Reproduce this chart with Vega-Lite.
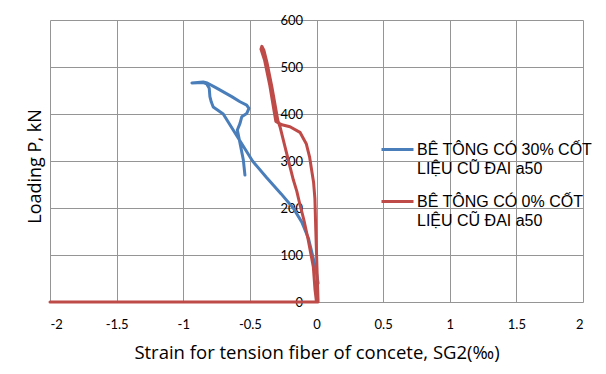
{
  "$schema": "https://vega.github.io/schema/vega-lite/v6.json",
  "width": 533,
  "height": 282,
  "autosize": {"type": "none"},
  "padding": {"left": 50, "top": 20, "right": 23, "bottom": 72},
  "background": "white",
  "config": {
    "view": {"stroke": null},
    "font": "Lato",
    "style": {"guide-label": {"lineHeight": 19}}
  },
  "data": {
    "values": [
      {"s": "BÊ TÔNG CÓ 30% CỐT LIỆU CŨ ĐAI a50", "i": 1, "x": 0.012, "P": 40},
      {"s": "BÊ TÔNG CÓ 30% CỐT LIỆU CŨ ĐAI a50", "i": 2, "x": -0.005, "P": 70},
      {"s": "BÊ TÔNG CÓ 30% CỐT LIỆU CŨ ĐAI a50", "i": 3, "x": -0.03, "P": 100},
      {"s": "BÊ TÔNG CÓ 30% CỐT LIỆU CŨ ĐAI a50", "i": 4, "x": -0.06, "P": 135},
      {"s": "BÊ TÔNG CÓ 30% CỐT LIỆU CŨ ĐAI a50", "i": 5, "x": -0.11, "P": 170},
      {"s": "BÊ TÔNG CÓ 30% CỐT LIỆU CŨ ĐAI a50", "i": 6, "x": -0.175, "P": 200},
      {"s": "BÊ TÔNG CÓ 30% CỐT LIỆU CŨ ĐAI a50", "i": 7, "x": -0.265, "P": 230},
      {"s": "BÊ TÔNG CÓ 30% CỐT LIỆU CŨ ĐAI a50", "i": 8, "x": -0.375, "P": 265},
      {"s": "BÊ TÔNG CÓ 30% CỐT LIỆU CŨ ĐAI a50", "i": 9, "x": -0.48, "P": 300},
      {"s": "BÊ TÔNG CÓ 30% CỐT LIỆU CŨ ĐAI a50", "i": 10, "x": -0.59, "P": 350},
      {"s": "BÊ TÔNG CÓ 30% CỐT LIỆU CŨ ĐAI a50", "i": 11, "x": -0.70, "P": 400},
      {"s": "BÊ TÔNG CÓ 30% CỐT LIỆU CŨ ĐAI a50", "i": 12, "x": -0.775, "P": 415},
      {"s": "BÊ TÔNG CÓ 30% CỐT LIỆU CŨ ĐAI a50", "i": 13, "x": -0.79, "P": 426},
      {"s": "BÊ TÔNG CÓ 30% CỐT LIỆU CŨ ĐAI a50", "i": 14, "x": -0.80, "P": 437},
      {"s": "BÊ TÔNG CÓ 30% CỐT LIỆU CŨ ĐAI a50", "i": 15, "x": -0.805, "P": 455},
      {"s": "BÊ TÔNG CÓ 30% CỐT LIỆU CŨ ĐAI a50", "i": 16, "x": -0.824, "P": 464},
      {"s": "BÊ TÔNG CÓ 30% CỐT LIỆU CŨ ĐAI a50", "i": 17, "x": -0.85, "P": 467},
      {"s": "BÊ TÔNG CÓ 30% CỐT LIỆU CŨ ĐAI a50", "i": 18, "x": -0.935, "P": 466},
      {"s": "BÊ TÔNG CÓ 30% CỐT LIỆU CŨ ĐAI a50", "i": 19, "x": -0.85, "P": 468},
      {"s": "BÊ TÔNG CÓ 30% CỐT LIỆU CŨ ĐAI a50", "i": 20, "x": -0.82, "P": 466},
      {"s": "BÊ TÔNG CÓ 30% CỐT LIỆU CŨ ĐAI a50", "i": 21, "x": -0.749, "P": 455},
      {"s": "BÊ TÔNG CÓ 30% CỐT LIỆU CŨ ĐAI a50", "i": 22, "x": -0.636, "P": 437},
      {"s": "BÊ TÔNG CÓ 30% CỐT LIỆU CŨ ĐAI a50", "i": 23, "x": -0.574, "P": 426},
      {"s": "BÊ TÔNG CÓ 30% CỐT LIỆU CŨ ĐAI a50", "i": 24, "x": -0.524, "P": 419},
      {"s": "BÊ TÔNG CÓ 30% CỐT LIỆU CŨ ĐAI a50", "i": 25, "x": -0.507, "P": 412},
      {"s": "BÊ TÔNG CÓ 30% CỐT LIỆU CŨ ĐAI a50", "i": 26, "x": -0.524, "P": 401},
      {"s": "BÊ TÔNG CÓ 30% CỐT LIỆU CŨ ĐAI a50", "i": 27, "x": -0.561, "P": 394},
      {"s": "BÊ TÔNG CÓ 30% CỐT LIỆU CŨ ĐAI a50", "i": 28, "x": -0.574, "P": 380},
      {"s": "BÊ TÔNG CÓ 30% CỐT LIỆU CŨ ĐAI a50", "i": 29, "x": -0.594, "P": 366},
      {"s": "BÊ TÔNG CÓ 30% CỐT LIỆU CŨ ĐAI a50", "i": 30, "x": -0.574, "P": 338},
      {"s": "BÊ TÔNG CÓ 30% CỐT LIỆU CŨ ĐAI a50", "i": 31, "x": -0.549, "P": 302},
      {"s": "BÊ TÔNG CÓ 30% CỐT LIỆU CŨ ĐAI a50", "i": 32, "x": -0.537, "P": 270},
      {"s": "BÊ TÔNG CÓ 0% CỐT LIỆU CŨ ĐAI a50", "i": 1, "x": 0.012, "P": 0},
      {"s": "BÊ TÔNG CÓ 0% CỐT LIỆU CŨ ĐAI a50", "i": 2, "x": 0.005, "P": 60},
      {"s": "BÊ TÔNG CÓ 0% CỐT LIỆU CŨ ĐAI a50", "i": 3, "x": -0.005, "P": 150},
      {"s": "BÊ TÔNG CÓ 0% CỐT LIỆU CŨ ĐAI a50", "i": 4, "x": -0.012, "P": 220},
      {"s": "BÊ TÔNG CÓ 0% CỐT LIỆU CŨ ĐAI a50", "i": 5, "x": -0.022, "P": 255},
      {"s": "BÊ TÔNG CÓ 0% CỐT LIỆU CŨ ĐAI a50", "i": 6, "x": -0.036, "P": 280},
      {"s": "BÊ TÔNG CÓ 0% CỐT LIỆU CŨ ĐAI a50", "i": 7, "x": -0.052, "P": 309},
      {"s": "BÊ TÔNG CÓ 0% CỐT LIỆU CŨ ĐAI a50", "i": 8, "x": -0.076, "P": 336},
      {"s": "BÊ TÔNG CÓ 0% CỐT LIỆU CŨ ĐAI a50", "i": 9, "x": -0.124, "P": 361},
      {"s": "BÊ TÔNG CÓ 0% CỐT LIỆU CŨ ĐAI a50", "i": 10, "x": -0.199, "P": 373},
      {"s": "BÊ TÔNG CÓ 0% CỐT LIỆU CŨ ĐAI a50", "i": 11, "x": -0.26, "P": 377},
      {"s": "BÊ TÔNG CÓ 0% CỐT LIỆU CŨ ĐAI a50", "i": 12, "x": -0.305, "P": 384},
      {"s": "BÊ TÔNG CÓ 0% CỐT LIỆU CŨ ĐAI a50", "i": 13, "x": -0.32, "P": 409},
      {"s": "BÊ TÔNG CÓ 0% CỐT LIỆU CŨ ĐAI a50", "i": 14, "x": -0.35, "P": 460},
      {"s": "BÊ TÔNG CÓ 0% CỐT LIỆU CŨ ĐAI a50", "i": 15, "x": -0.39, "P": 515},
      {"s": "BÊ TÔNG CÓ 0% CỐT LIỆU CŨ ĐAI a50", "i": 16, "x": -0.417, "P": 538},
      {"s": "BÊ TÔNG CÓ 0% CỐT LIỆU CŨ ĐAI a50", "i": 17, "x": -0.41, "P": 544},
      {"s": "BÊ TÔNG CÓ 0% CỐT LIỆU CŨ ĐAI a50", "i": 18, "x": -0.395, "P": 536},
      {"s": "BÊ TÔNG CÓ 0% CỐT LIỆU CŨ ĐAI a50", "i": 19, "x": -0.372, "P": 510},
      {"s": "BÊ TÔNG CÓ 0% CỐT LIỆU CŨ ĐAI a50", "i": 20, "x": -0.335, "P": 458},
      {"s": "BÊ TÔNG CÓ 0% CỐT LIỆU CŨ ĐAI a50", "i": 21, "x": -0.305, "P": 410},
      {"s": "BÊ TÔNG CÓ 0% CỐT LIỆU CŨ ĐAI a50", "i": 22, "x": -0.29, "P": 386},
      {"s": "BÊ TÔNG CÓ 0% CỐT LIỆU CŨ ĐAI a50", "i": 23, "x": -0.274, "P": 373},
      {"s": "BÊ TÔNG CÓ 0% CỐT LIỆU CŨ ĐAI a50", "i": 24, "x": -0.224, "P": 316},
      {"s": "BÊ TÔNG CÓ 0% CỐT LIỆU CŨ ĐAI a50", "i": 25, "x": -0.174, "P": 260},
      {"s": "BÊ TÔNG CÓ 0% CỐT LIỆU CŨ ĐAI a50", "i": 26, "x": -0.148, "P": 236},
      {"s": "BÊ TÔNG CÓ 0% CỐT LIỆU CŨ ĐAI a50", "i": 27, "x": -0.125, "P": 208},
      {"s": "BÊ TÔNG CÓ 0% CỐT LIỆU CŨ ĐAI a50", "i": 28, "x": -0.095, "P": 175},
      {"s": "BÊ TÔNG CÓ 0% CỐT LIỆU CŨ ĐAI a50", "i": 29, "x": -0.062, "P": 132},
      {"s": "BÊ TÔNG CÓ 0% CỐT LIỆU CŨ ĐAI a50", "i": 30, "x": -0.024, "P": 75},
      {"s": "BÊ TÔNG CÓ 0% CỐT LIỆU CŨ ĐAI a50", "i": 31, "x": -0.011, "P": 26},
      {"s": "BÊ TÔNG CÓ 0% CỐT LIỆU CŨ ĐAI a50", "i": 32, "x": 0.0, "P": 0},
      {"s": "BÊ TÔNG CÓ 0% CỐT LIỆU CŨ ĐAI a50", "i": 33, "x": -2.0, "P": 0}
    ]
  },
  "mark": {"type": "line", "strokeWidth": 3, "clip": false, "strokeJoin": "round", "strokeCap": "round"},
  "encoding": {
    "x": {
      "field": "x", "type": "quantitative",
      "scale": {"domain": [-2, 2], "nice": false, "zero": false},
      "axis": {
        "values": [-2, -1.5, -1, -0.5, 0, 0.5, 1, 1.5, 2],
        "labelExpr": "'' + datum.value",
        "grid": true, "gridColor": "#959595", "gridWidth": 1,
        "domain": false, "ticks": false,
        "labelFont": "Lato", "labelFontSize": 13, "labelColor": "#000000",
        "labelPadding": 16,
        "title": "Strain for tension fiber of concete, SG2(‰)",
        "titleFont": "Open Sans", "titleFontSize": 18.5, "titleFontWeight": "normal", "titleColor": "#000000",
        "titlePadding": 12
      }
    },
    "y": {
      "field": "P", "type": "quantitative",
      "scale": {"domain": [0, 600], "nice": false},
      "axis": {
        "values": [0, 100, 200, 300, 400, 500, 600],
        "offset": -266.5,
        "grid": true, "gridColor": "#959595", "gridWidth": 1,
        "domain": false, "ticks": false,
        "labelFont": "Lato", "labelFontSize": 13, "labelColor": "#000000",
        "labelPadding": 14,
        "title": "Loading P, kN",
        "titleFont": "Open Sans", "titleFontSize": 18, "titleFontWeight": "normal", "titleColor": "#000000",
        "titleAngle": -90, "titleAlign": "center", "titleBaseline": "middle",
        "titleX": -281.5, "titleY": 146
      }
    },
    "color": {
      "field": "s", "type": "nominal",
      "scale": {
        "domain": ["BÊ TÔNG CÓ 30% CỐT LIỆU CŨ ĐAI a50", "BÊ TÔNG CÓ 0% CỐT LIỆU CŨ ĐAI a50"],
        "range": ["#4A7EBB", "#BE4B48"]
      },
      "legend": {
        "title": null,
        "orient": "none",
        "legendX": 330,
        "legendY": 112,
        "padding": 0,
        "symbolType": "stroke",
        "symbolSize": 1024,
        "symbolStrokeWidth": 3,
        "labelFont": "Liberation Sans",
        "labelFontSize": 16,
        "labelColor": "#000000",
        "labelOffset": 2,
        "labelLimit": 300,
        "rowPadding": 7,
        "labelExpr": "[replace(datum.label, ' LIỆU CŨ ĐAI a50', ''), 'LIỆU CŨ ĐAI a50']"
      }
    },
    "order": {"field": "i", "type": "quantitative"}
  }
}
